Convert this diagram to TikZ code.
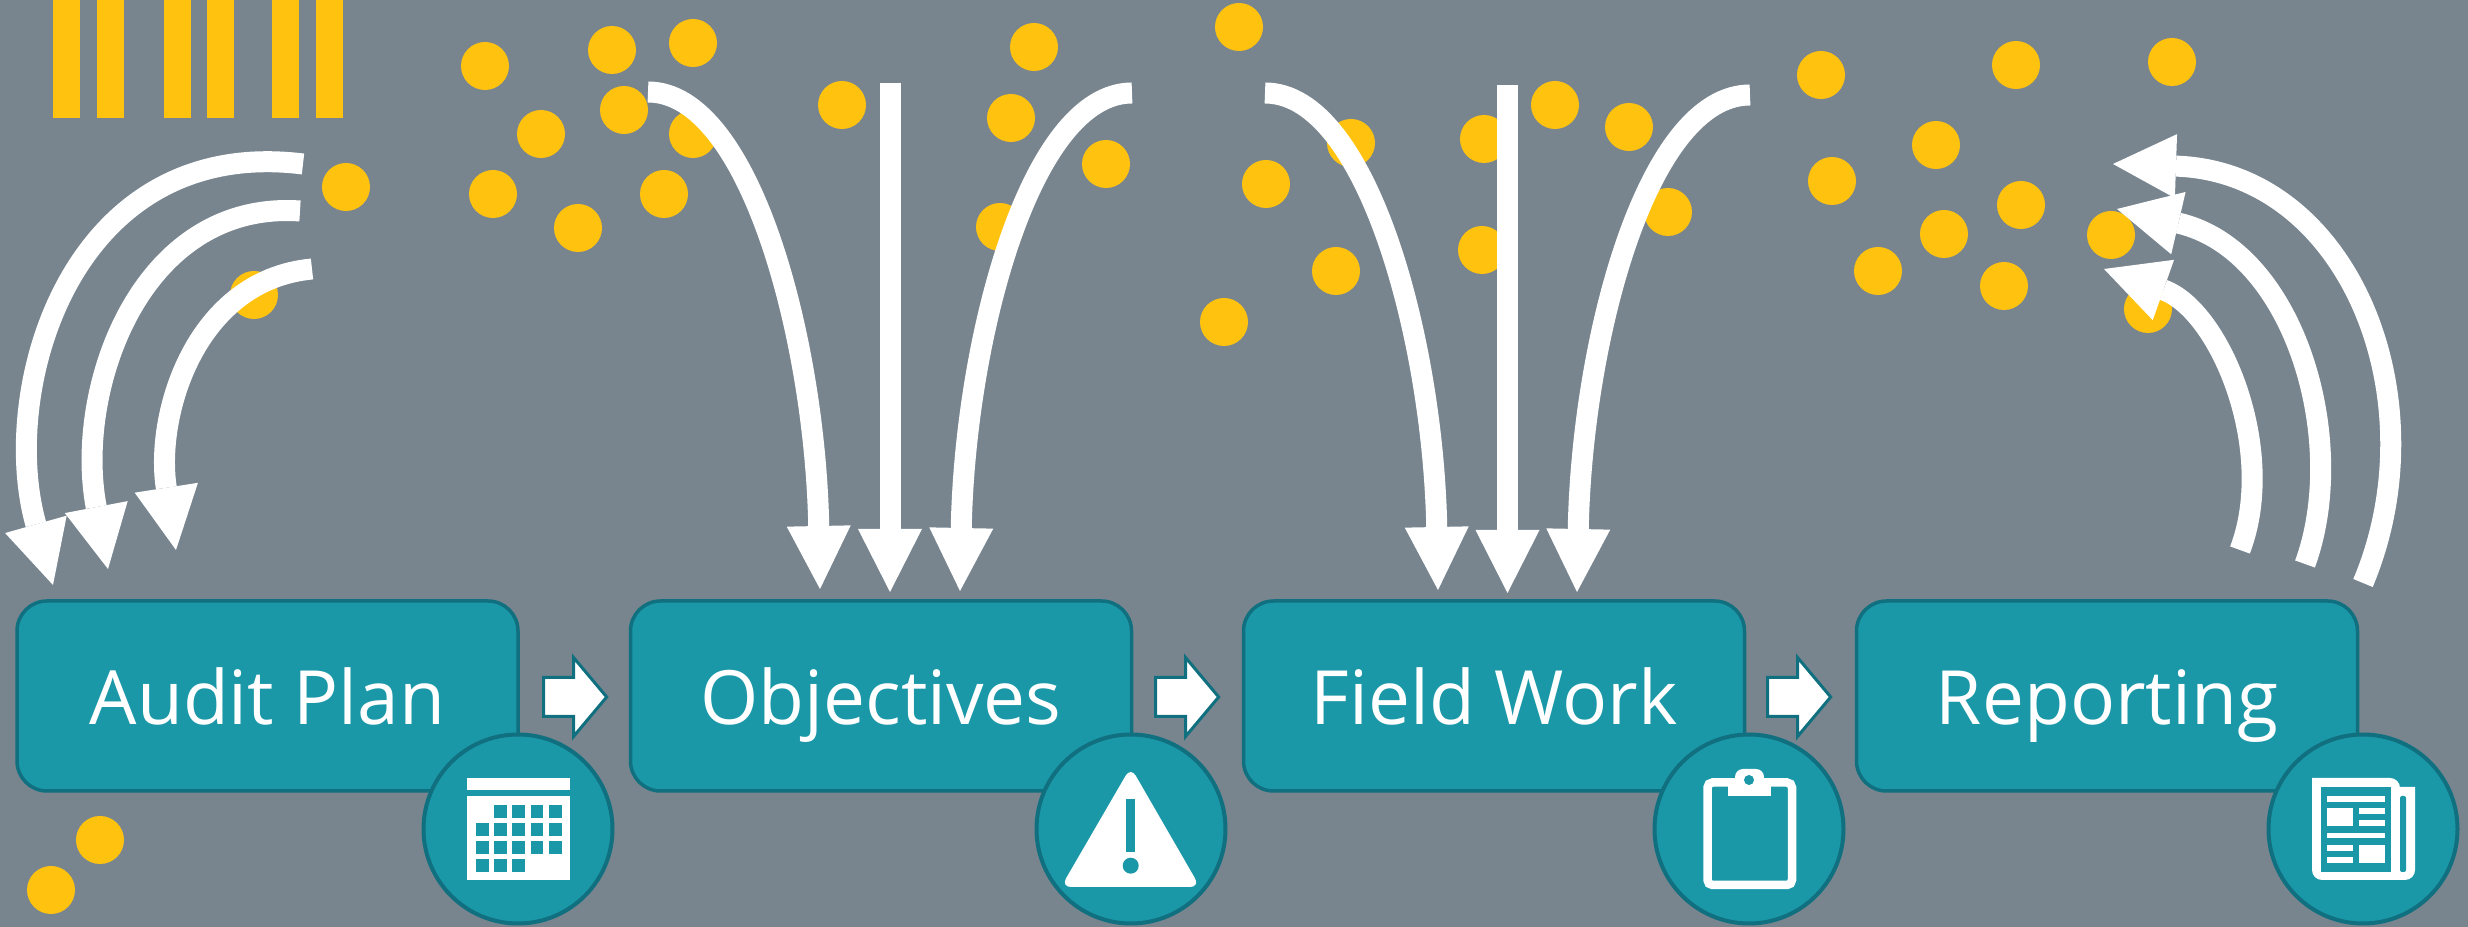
\documentclass[tikz,border=0pt]{standalone}
\usepackage{fontspec}
\setmainfont{Open Sans}
\usepackage{tikz}
\usetikzlibrary{arrows.meta, shapes.arrows}

\definecolor{slategrey}{HTML}{78858F}
\definecolor{teal}{HTML}{1B98A8}
\definecolor{darkteal}{HTML}{10707F}
\definecolor{dotyellow}{HTML}{FFC20E}

\tikzset{
    stagebox/.style={draw=darkteal, line width=0.35mm, fill=teal, rounded corners=3mm, minimum width=50.1mm, minimum height=19mm, text=white, font=\fontsize{21.3}{21.3}\selectfont, text height=5.8mm, text depth=0pt, inner sep=0pt},
    iconring/.style={circle, draw=darkteal, line width=0.4mm, fill=teal, minimum size=18.9mm, inner sep=0pt},
    nextarrow/.style={single arrow, draw=darkteal, line width=0.3mm, fill=white, minimum height=6.3mm, text height=3.6mm, text depth=0pt, text width=0pt, single arrow head extend=2mm, single arrow tip angle=100, single arrow head indent=0pt, inner sep=0pt},
    flowline/.style={draw=white, line width=2.1mm, -{Triangle[width=6.4mm,length=6.3mm,line width=0pt,sep=0pt]}},
}

\begin{document}
\begin{tikzpicture}[x=0.1mm, y=-0.1mm]
    \useasboundingbox (0,0) rectangle (2468,927);
    \fill[slategrey] (0,0) rectangle (2468,927);

    % bars
    \foreach \x in {53,97,164,207,272,316}
        \fill[dotyellow] (\x,0) rectangle (\x+26.5,118);

    % dots
    \foreach \x/\y in {346/187,254/295,485/66,541/134,493/194,578/228,100/840,51/890,
        612/50,693/43,624/110,693/134,664/194,842/105,1034/47,1011/118,1106/164,1000/227,
        1239/27,1266/184,1351/143,1484/139,1482/250,1555/105,1629/127,1668/212,1336/271,1224/322,
        1821/75,2016/65,2172/62,1936/145,1832/181,2021/205,1944/234,1878/271,2004/286,2111/235,2148/309}
        \fill[dotyellow] (\x,\y) circle (2.4mm);

    % free ends of the arrows
    \coordinate (plan-a) at (303,164);   \coordinate (plan-atip) at (53,585);
    \coordinate (plan-b) at (300,211);   \coordinate (plan-btip) at (108,569);
    \coordinate (plan-c) at (312,269);   \coordinate (plan-ctip) at (176,550);
    \coordinate (obj-a) at (648,92);     \coordinate (obj-atip) at (820,589);
    \coordinate (obj-b) at (890,83);     \coordinate (obj-btip) at (890,592);
    \coordinate (obj-c) at (1132,93);    \coordinate (obj-ctip) at (960,591);
    \coordinate (work-a) at (1265,93);   \coordinate (work-atip) at (1438,590);
    \coordinate (work-b) at (1507.5,85); \coordinate (work-btip) at (1507.5,593);
    \coordinate (work-c) at (1750,95);   \coordinate (work-ctip) at (1577,592);
    \coordinate (rep-a) at (2240,550);   \coordinate (rep-atip) at (2104,269);
    \coordinate (rep-b) at (2305,564);   \coordinate (rep-btip) at (2117,209);
    \coordinate (rep-c) at (2363,583);   \coordinate (rep-ctip) at (2113,164);

    % arrows
    \draw[flowline] (plan-a) .. controls (70,135) and (-2,390) .. (plan-atip);
    \draw[flowline] (plan-b) .. controls (140,200) and (74,390) .. (plan-btip);
    \draw[flowline] (plan-c) .. controls (195,280) and (155,415) .. (plan-ctip);
    \draw[flowline] (obj-a) .. controls (750,92) and (815,340) .. (obj-atip);
    \draw[flowline] (obj-b) -- (obj-btip);
    \draw[flowline] (obj-c) .. controls (1030,93) and (965,340) .. (obj-ctip);
    \draw[flowline] (work-a) .. controls (1367,93) and (1433,340) .. (work-atip);
    \draw[flowline] (work-b) -- (work-btip);
    \draw[flowline] (work-c) .. controls (1647,95) and (1582,340) .. (work-ctip);
    \draw[flowline] (rep-a) .. controls (2278,450) and (2220,310) .. (rep-atip);
    \draw[flowline] (rep-b) .. controls (2350,441) and (2295,250) .. (rep-btip);
    \draw[flowline] (rep-c) .. controls (2440,400) and (2350,172) .. (rep-ctip);

    % stages
    \node[stagebox] (plan) at (267.5,696) {Audit Plan};
    \node[stagebox] (objectives) at (881,696) {Objectives};
    \node[stagebox] (work) at (1494,696) {Field Work};
    \node[stagebox] (reporting) at (2107,696) {Reporting};

    \node[nextarrow] (next1) at (567,697) {};
    \node[nextarrow] (next2) at (1179,697) {};
    \node[nextarrow] (next3) at (1791,697) {};

    \node[iconring] (planring) at (518,829) {};
    \node[iconring] (objring) at (1131,829) {};
    \node[iconring] (workring) at (1749,829) {};
    \node[iconring] (repring) at (2363,829) {};

    % calendar
    \fill[white] (467,778) rectangle (570,790);
    \fill[white] (467,796) rectangle (570,880);
    \foreach \r/\c in {0/1,0/2,0/3,0/4,1/0,1/1,1/2,1/3,1/4,2/0,2/1,2/2,2/3,2/4,3/0,3/1,3/2}
        \fill[teal] (476+18.2*\c,805.3+18*\r) rectangle +(12.7,12.7);

    % warning sign
    \fill[white, rounded corners=1mm] (1130.7,767) -- (1200,887) -- (1061,887) -- cycle;
    \fill[teal] (1125.7,799) rectangle (1135.3,851.7);
    \fill[teal] (1130.7,865.7) circle (0.8mm);

    % clipboard
    \draw[white, line width=0.85mm, rounded corners=0.5mm] (1707.5,782.5) rectangle (1792,885);
    \fill[white] (1728,782) rectangle (1771,796);
    \fill[white, rounded corners=0.8mm] (1735,785) -- (1735,769) -- (1764,769) -- (1764,785) -- cycle;
    \fill[teal] (1749,780) circle (0.5mm);

    % newspaper
    \fill[white, rounded corners=1mm] (2312,778) -- (2400,778) [sharp corners] -- (2400,787) -- (2415,787) [rounded corners=1mm] -- (2415,880) -- (2312,880) [sharp corners] -- cycle;
    \fill[teal] (2321,787) rectangle (2391,872);
    \fill[teal, rounded corners=0.2mm] (2400,796) rectangle (2406,872);
    \foreach \xa/\ya/\xb/\yb in {2327/796/2385/802,2327/808/2353/826,2359/808/2385/814,2359/820/2385/826,2327/833/2385/838,2327/845/2353/851,2327/857/2353/863,2359/845/2385/863}
        \fill[white] (\xa,\ya) rectangle (\xb,\yb);
\end{tikzpicture}
\end{document}
